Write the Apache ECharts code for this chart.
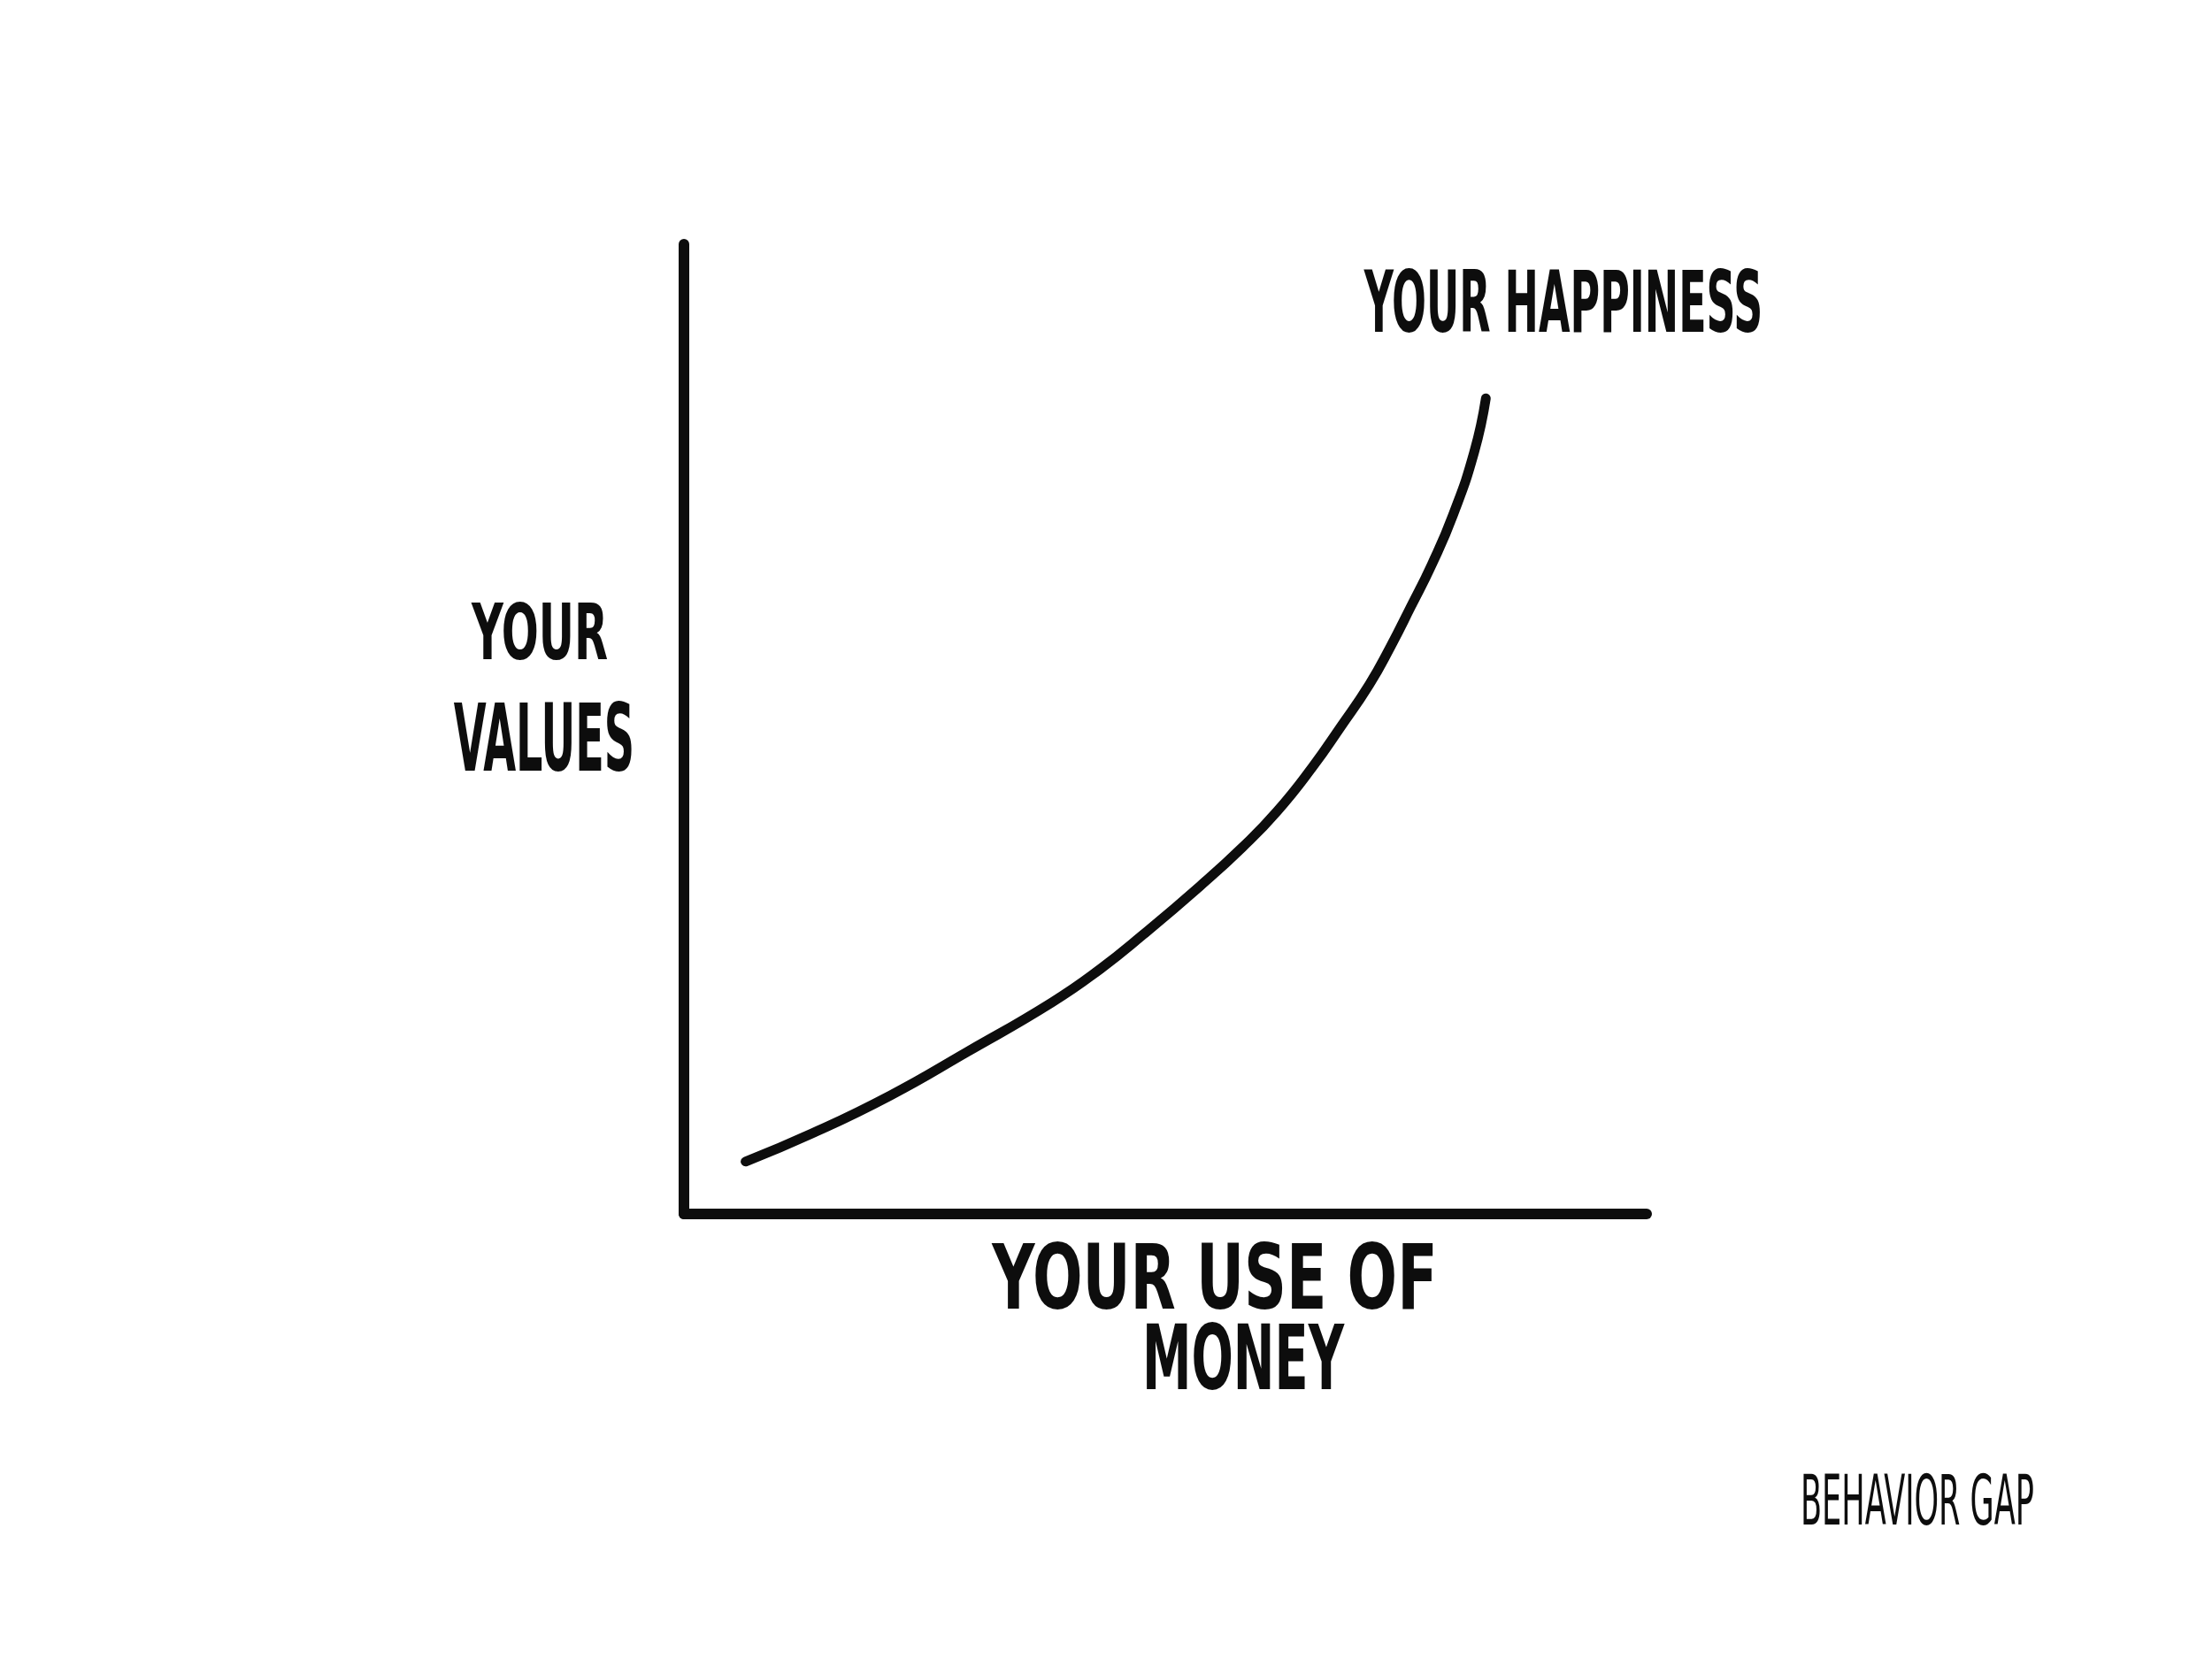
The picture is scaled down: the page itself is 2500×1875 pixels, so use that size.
<!DOCTYPE html>
<html>
<head>
<meta charset="utf-8">
<script src="https://cdn.jsdelivr.net/npm/echarts@6/dist/echarts.min.js"></script>
<style>
html,body{margin:0;padding:0;background:#fff;}
#chart{width:2500px;height:1875px;}
</style>
</head>
<body>
<div id="chart"></div>
<script>
// Use of money (x) vs values (y) (0-100 scale)
const moneyUse = [6.4, 13.3, 21.4, 29.4, 38.2, 43.3, 47.7, 53.6, 58.0, 61.6, 65.3, 68.2, 71.2, 73.4, 75.5, 77.7, 79.9, 82.1, 83.3];
const happiness = [5.4, 8.3, 12.2, 16.7, 21.8, 25.3, 28.8, 33.8, 37.8, 41.5, 46.1, 50.2, 54.6, 58.5, 62.6, 67.0, 72.1, 78.6, 84.1];
const seriesName = 'YOUR HAPPINESS';
const yTitleLines = ['YOUR', 'VALUES'];
const xTitleLines = ['YOUR USE OF', 'MONEY'];
const signature = 'BEHAVIOR GAP';

const ink = '#0d0d0d';
const hand = "'DejaVu Sans Condensed', 'DejaVu Sans', sans-serif";

const chart = echarts.init(document.getElementById('chart'), null, {renderer: 'canvas'});

function label(text, x, y, size, sy, weight) {
  return {
    type: 'text', x: x, y: y, scaleY: sy, z: 10,
    style: {
      text: text, fill: ink, fontSize: size, fontFamily: hand, fontWeight: weight,
      align: 'center', verticalAlign: 'middle',
      textAlign: 'center', textVerticalAlign: 'middle'
    }
  };
}

const axisStyle = {show: true, onZero: false, lineStyle: {color: ink, width: 12, cap: 'round'}};

chart.setOption({
  backgroundColor: '#ffffff',
  animation: false,
  grid: {left: 773, right: 639, top: 276, bottom: 503, containLabel: false},
  xAxis: {
    type: 'value', min: 0, max: 100,
    axisLine: axisStyle, axisTick: {show: false}, axisLabel: {show: false}, splitLine: {show: false}
  },
  yAxis: {
    type: 'value', min: 0, max: 100,
    axisLine: axisStyle, axisTick: {show: false}, axisLabel: {show: false}, splitLine: {show: false}
  },
  series: [{
    name: seriesName,
    type: 'line',
    data: moneyUse.map((x, i) => [x, happiness[i]]),
    smooth: 0.5,
    symbol: 'none',
    lineStyle: {color: ink, width: 11, cap: 'round', join: 'round'}
  }],
  graphic: [
    label(seriesName, 1767, 350, 51, 1.9, 'bold'),
    label(yTitleLines[0], 610, 722, 55, 1.6, 'bold'),
    label(yTitleLines[1], 615, 843, 53, 2.0, 'bold'),
    label(xTitleLines[0], 1373, 1452, 74, 1.38, 'bold'),
    label(xTitleLines[1], 1405, 1543, 62, 1.65, 'bold'),
    label(signature, 2167, 1703, 39, 2.0, 'normal')
  ]
});
</script>
</body>
</html>
